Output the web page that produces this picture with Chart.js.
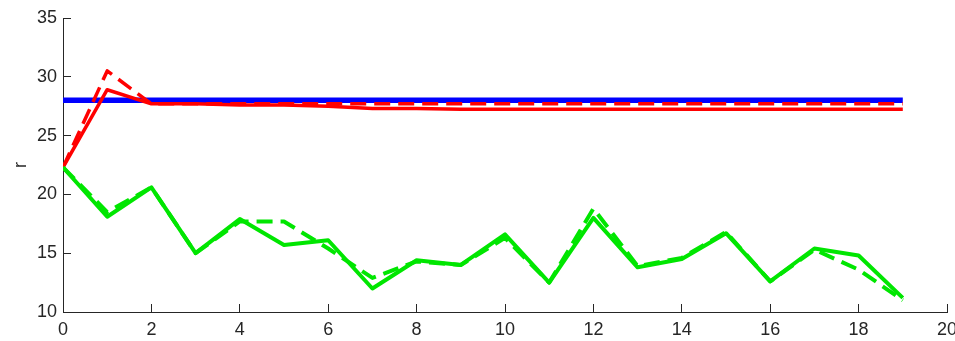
<!DOCTYPE html>
<html>
<head>
<meta charset="utf-8">
<script src="https://cdn.jsdelivr.net/npm/chart.js@4/dist/chart.umd.min.js"></script>
<style>
  html, body { margin: 0; padding: 0; background: #fff; }
  #wrap { width: 955px; height: 341px; }
</style>
</head>
<body>
<div id="wrap"><canvas id="chart" width="955" height="341"></canvas></div>
<script>
// ===== Data =====
const steps = [0, 1, 2, 3, 4, 5, 6, 7, 8, 9, 10, 11, 12, 13, 14, 15, 16, 17, 18, 19];
const refLevel = [28, 28, 28, 28, 28, 28, 28, 28, 28, 28, 28, 28, 28, 28, 28, 28, 28, 28, 28, 28];
const redSolid = [22.3, 28.9, 27.7, 27.7, 27.6, 27.6, 27.5, 27.3, 27.3, 27.25, 27.25, 27.25, 27.25, 27.25, 27.25, 27.25, 27.25, 27.25, 27.25, 27.25];
const redDashed = [22.3, 30.5, 27.7, 27.7, 27.7, 27.7, 27.7, 27.7, 27.7, 27.7, 27.7, 27.7, 27.7, 27.7, 27.7, 27.7, 27.7, 27.7, 27.7, 27.7];
const greenSolid = [22.3, 18.1, 20.6, 15.0, 17.9, 15.7, 16.1, 12.0, 14.4, 14.0, 16.6, 12.5, 18.0, 13.8, 14.5, 16.7, 12.6, 15.4, 14.8, 11.2];
const greenDashed = [22.3, 18.5, 20.6, 15.0, 17.7, 17.7, 15.4, 12.9, 14.3, 14.0, 16.3, 12.5, 18.8, 13.9, 14.6, 16.8, 12.6, 15.3, 13.6, 11.0];
const xTicks = [0, 2, 4, 6, 8, 10, 12, 14, 16, 18, 20];
const yTicks = [10, 15, 20, 25, 30, 35];
const yTitle = "r";

const AXIS = "#262626";
const FONT = { family: "'Liberation Sans', Arial, sans-serif", size: 18 };

const pts = (ys) => steps.map((x, i) => ({ x, y: ys[i] }));

function line(data, color, width, dash) {
  return {
    data: pts(data),
    borderColor: color,
    borderWidth: width,
    borderDash: dash || [],
    borderJoinStyle: "round",
    pointRadius: 0,
    tension: 0,
    fill: false,
  };
}

// first in the list is drawn on top
const datasets = [
  line(greenSolid, "#00e600", 4),
  line(greenDashed, "#00e600", 4, [16, 8]),
  line(redSolid, "#ff0000", 3.5),
  line(redDashed, "#ff0000", 3.5, [16, 8]),
  line(refLevel, "#0000ff", 5.5),
];

new Chart(document.getElementById("chart"), {
  type: "line",
  data: { datasets },
  options: {
    responsive: false,
    animation: false,
    events: [],
    layout: { padding: { top: 18, right: 8, left: 0, bottom: 0 } },
    plugins: { legend: { display: false }, tooltip: { enabled: false } },
    scales: {
      x: {
        type: "linear",
        min: xTicks[0],
        max: xTicks[xTicks.length - 1],
        afterBuildTicks: (s) => { s.ticks = xTicks.map((v) => ({ value: v })); },
        afterFit: (s) => { s.height = 29; s.paddingLeft = 0; s.paddingRight = 0; },
        border: { display: true, color: AXIS, width: 1 },
        grid: { drawOnChartArea: false, drawTicks: true, tickLength: -8, color: AXIS },
        ticks: { color: AXIS, font: FONT, padding: 15, maxRotation: 0, autoSkip: false },
      },
      y: {
        min: yTicks[0],
        max: yTicks[yTicks.length - 1],
        afterBuildTicks: (s) => { s.ticks = yTicks.map((v) => ({ value: v })); },
        afterFit: (s) => { s.width = 63; s.paddingTop = 0; s.paddingBottom = 0; },
        border: { display: true, color: AXIS, width: 1 },
        grid: { drawOnChartArea: false, drawTicks: true, tickLength: -8, color: AXIS },
        ticks: { color: AXIS, font: FONT, padding: 14, autoSkip: false },
        title: { display: true, text: yTitle, color: AXIS, font: FONT, padding: { top: 10, bottom: 0 } },
      },
    },
  },
});
</script>
</body>
</html>
